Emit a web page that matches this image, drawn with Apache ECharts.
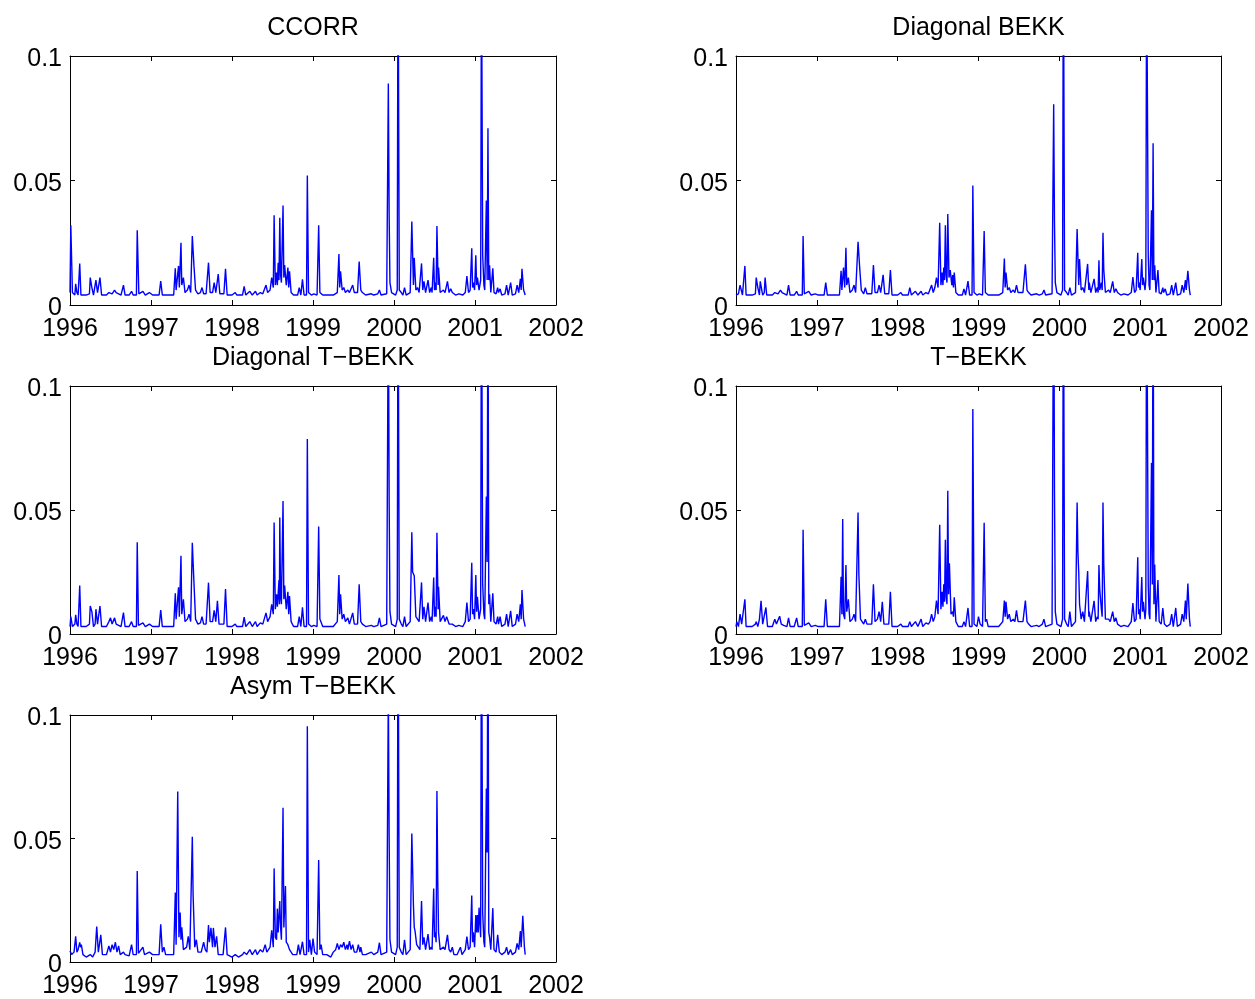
<!DOCTYPE html>
<html>
<head>
<meta charset="utf-8">
<script src="https://cdn.jsdelivr.net/npm/echarts@6/dist/echarts.min.js"></script>
<style>
  html, body { margin: 0; padding: 0; background: #fff; }
  #chart { width: 1255px; height: 999px; }
</style>
</head>
<body>
<div id="chart"></div>
<script>
// Conditional variance series, one panel per model: [decimal year, variance]
const panelTitles = ['CCORR', 'Diagonal BEKK', 'Diagonal T\u2212BEKK', 'T\u2212BEKK', 'Asym T\u2212BEKK'];
const xTicks = [1996, 1997, 1998, 1999, 2000, 2001, 2002];
const yTicks = [0, 0.05, 0.1];

const ccorr = [
  [1996.00,0.005],[1996.01,0.032],[1996.03,0.005],[1996.06,0.004],[1996.07,0.0085],[1996.085,0.005],[1996.10,0.004],[1996.12,0.0167],[1996.135,0.004],[1996.20,0.004],[1996.24,0.0045],[1996.25,0.011],[1996.27,0.007],[1996.29,0.004],[1996.31,0.0045],[1996.32,0.010],[1996.34,0.005],[1996.36,0.0045],[1996.37,0.011],[1996.39,0.004],
  [1996.45,0.004],[1996.48,0.005],[1996.50,0.0055],[1996.52,0.0045],[1996.55,0.006],[1996.57,0.005],[1996.59,0.0045],[1996.63,0.004],[1996.66,0.008],[1996.68,0.004],[1996.73,0.004],[1996.76,0.0055],[1996.78,0.004],[1996.82,0.004],[1996.83,0.030],[1996.85,0.0045],[1996.90,0.0055],[1996.93,0.004],[1996.98,0.005],
  [1997.02,0.004],[1997.10,0.004],[1997.12,0.0096],[1997.14,0.004],[1997.28,0.004],[1997.30,0.0147],[1997.31,0.006],[1997.34,0.0157],[1997.35,0.007],[1997.37,0.025],[1997.38,0.008],[1997.40,0.011],[1997.42,0.005],[1997.45,0.006],[1997.47,0.008],[1997.49,0.005],[1997.51,0.0277],[1997.53,0.016],[1997.55,0.006],[1997.58,0.0045],[1997.61,0.005],[1997.63,0.007],[1997.65,0.0045],[1997.68,0.0045],[1997.71,0.017],[1997.73,0.005],[1997.76,0.005],[1997.78,0.009],[1997.80,0.005],[1997.83,0.0124],[1997.85,0.0045],[1997.90,0.0045],[1997.92,0.0145],[1997.94,0.004],
  [1998.00,0.004],[1998.04,0.005],[1998.06,0.004],[1998.13,0.004],[1998.15,0.0075],[1998.17,0.004],[1998.22,0.0055],[1998.25,0.004],[1998.29,0.0055],[1998.31,0.004],[1998.35,0.005],[1998.38,0.0045],[1998.40,0.005],[1998.42,0.008],[1998.44,0.005],[1998.47,0.006],[1998.49,0.011],[1998.51,0.007],[1998.52,0.036],[1998.535,0.008],[1998.55,0.013],[1998.56,0.008],[1998.57,0.017],[1998.58,0.010],[1998.59,0.035],[1998.60,0.012],[1998.61,0.009],[1998.63,0.040],[1998.64,0.011],[1998.65,0.016],[1998.67,0.008],[1998.69,0.015],[1998.70,0.007],[1998.71,0.0135],[1998.73,0.005],[1998.76,0.004],[1998.81,0.004],[1998.83,0.007],[1998.85,0.004],[1998.87,0.0103],[1998.89,0.004],[1998.92,0.004],[1998.93,0.052],[1998.945,0.005],[1998.98,0.004],
  [1999.01,0.0045],[1999.05,0.004],[1999.07,0.032],[1999.085,0.005],[1999.10,0.0055],[1999.12,0.004],[1999.17,0.004],[1999.20,0.004],[1999.25,0.004],[1999.30,0.005],[1999.32,0.0205],[1999.33,0.007],[1999.34,0.0135],[1999.36,0.006],[1999.38,0.007],[1999.40,0.005],[1999.43,0.006],[1999.45,0.005],[1999.47,0.0055],[1999.49,0.008],[1999.51,0.005],[1999.55,0.005],[1999.57,0.0175],[1999.59,0.006],[1999.61,0.005],[1999.65,0.004],[1999.72,0.0045],[1999.75,0.004],[1999.80,0.0045],[1999.82,0.006],[1999.84,0.004],[1999.91,0.0045],[1999.93,0.089],[1999.94,0.036],[1999.95,0.009],[1999.97,0.005],
  [2000.02,0.004],[2000.04,0.006],[2000.05,0.150],[2000.065,0.006],[2000.09,0.005],[2000.11,0.004],[2000.13,0.007],[2000.15,0.004],[2000.20,0.005],[2000.22,0.0335],[2000.24,0.008],[2000.25,0.019],[2000.27,0.006],[2000.29,0.007],[2000.31,0.005],[2000.34,0.0167],[2000.355,0.006],[2000.37,0.0095],[2000.39,0.005],[2000.42,0.010],[2000.44,0.005],[2000.46,0.007],[2000.47,0.005],[2000.49,0.019],[2000.50,0.006],[2000.51,0.009],[2000.52,0.006],[2000.53,0.0317],[2000.545,0.008],[2000.55,0.015],[2000.57,0.005],[2000.61,0.006],[2000.63,0.005],[2000.66,0.0095],[2000.68,0.005],[2000.70,0.0065],[2000.72,0.005],[2000.76,0.004],[2000.80,0.0045],[2000.85,0.004],[2000.88,0.005],[2000.90,0.0116],[2000.92,0.005],[2000.94,0.006],[2000.96,0.0228],[2000.97,0.007],[2000.98,0.009],[2000.995,0.006],
  [2001.01,0.020],[2001.02,0.008],[2001.03,0.011],[2001.05,0.006],[2001.07,0.010],[2001.08,0.140],[2001.095,0.020],[2001.11,0.008],[2001.12,0.006],[2001.14,0.042],[2001.15,0.010],[2001.16,0.071],[2001.17,0.010],[2001.18,0.016],[2001.195,0.005],[2001.22,0.0147],[2001.235,0.005],[2001.26,0.0045],[2001.28,0.007],[2001.29,0.005],[2001.31,0.0065],[2001.33,0.004],[2001.37,0.0045],[2001.39,0.008],[2001.41,0.004],[2001.44,0.009],[2001.46,0.004],[2001.50,0.0045],[2001.52,0.008],[2001.54,0.005],[2001.56,0.0105],[2001.57,0.006],[2001.58,0.0145],[2001.60,0.006],[2001.62,0.004]
];

const diagBekk = [
  [1996.00,0.004],[1996.03,0.0045],[1996.05,0.008],[1996.06,0.0075],[1996.08,0.004],[1996.10,0.004],[1996.11,0.0157],[1996.125,0.004],[1996.20,0.004],[1996.24,0.0045],[1996.25,0.011],[1996.27,0.007],[1996.29,0.004],[1996.30,0.0095],[1996.315,0.0095],[1996.33,0.004],[1996.35,0.005],[1996.36,0.011],[1996.38,0.004],
  [1996.45,0.004],[1996.48,0.005],[1996.50,0.0055],[1996.52,0.0045],[1996.55,0.006],[1996.57,0.005],[1996.59,0.0045],[1996.63,0.004],[1996.65,0.008],[1996.67,0.004],[1996.72,0.004],[1996.75,0.0055],[1996.77,0.004],[1996.82,0.004],[1996.83,0.0277],[1996.845,0.0045],[1996.90,0.0055],[1996.93,0.004],[1996.98,0.0045],
  [1997.02,0.004],[1997.09,0.004],[1997.11,0.009],[1997.13,0.004],[1997.28,0.004],[1997.30,0.0137],[1997.31,0.006],[1997.33,0.015],[1997.345,0.007],[1997.36,0.023],[1997.37,0.008],[1997.39,0.011],[1997.41,0.005],[1997.44,0.006],[1997.46,0.008],[1997.48,0.005],[1997.51,0.0254],[1997.53,0.015],[1997.55,0.006],[1997.58,0.0045],[1997.60,0.007],[1997.62,0.0045],[1997.68,0.0045],[1997.70,0.016],[1997.72,0.005],[1997.75,0.005],[1997.77,0.008],[1997.79,0.005],[1997.82,0.0121],[1997.84,0.0045],[1997.89,0.0045],[1997.91,0.014],[1997.93,0.004],
  [1998.00,0.004],[1998.04,0.005],[1998.06,0.004],[1998.13,0.004],[1998.15,0.007],[1998.17,0.004],[1998.22,0.0055],[1998.25,0.004],[1998.29,0.0055],[1998.31,0.004],[1998.35,0.005],[1998.38,0.0045],[1998.40,0.005],[1998.42,0.008],[1998.44,0.005],[1998.46,0.007],[1998.48,0.011],[1998.50,0.007],[1998.52,0.033],[1998.535,0.008],[1998.55,0.013],[1998.56,0.008],[1998.57,0.015],[1998.58,0.010],[1998.59,0.032],[1998.60,0.012],[1998.61,0.009],[1998.62,0.0365],[1998.635,0.011],[1998.65,0.014],[1998.67,0.008],[1998.68,0.012],[1998.69,0.007],[1998.70,0.013],[1998.72,0.005],[1998.75,0.004],[1998.80,0.004],[1998.82,0.0065],[1998.84,0.004],[1998.87,0.0096],[1998.89,0.004],[1998.92,0.004],[1998.93,0.048],[1998.945,0.005],[1998.98,0.004],
  [1999.01,0.0045],[1999.05,0.004],[1999.07,0.0297],[1999.085,0.005],[1999.10,0.0055],[1999.12,0.004],[1999.20,0.004],[1999.25,0.004],[1999.30,0.005],[1999.32,0.0187],[1999.33,0.007],[1999.34,0.013],[1999.36,0.006],[1999.38,0.007],[1999.40,0.005],[1999.43,0.006],[1999.45,0.005],[1999.47,0.008],[1999.49,0.005],[1999.55,0.005],[1999.58,0.0163],[1999.60,0.006],[1999.62,0.005],[1999.65,0.004],[1999.72,0.0045],[1999.75,0.004],[1999.79,0.0045],[1999.81,0.006],[1999.83,0.004],[1999.91,0.0045],[1999.93,0.0806],[1999.94,0.0332],[1999.95,0.009],[1999.97,0.005],
  [2000.02,0.004],[2000.04,0.006],[2000.05,0.150],[2000.065,0.006],[2000.09,0.005],[2000.11,0.004],[2000.13,0.007],[2000.15,0.004],[2000.20,0.005],[2000.22,0.0305],[2000.24,0.008],[2000.25,0.0185],[2000.27,0.006],[2000.29,0.007],[2000.31,0.005],[2000.35,0.0165],[2000.365,0.006],[2000.37,0.009],[2000.39,0.005],[2000.43,0.0105],[2000.45,0.005],[2000.47,0.007],[2000.48,0.005],[2000.49,0.018],[2000.50,0.006],[2000.52,0.009],[2000.53,0.006],[2000.54,0.029],[2000.55,0.014],[2000.57,0.005],[2000.61,0.006],[2000.63,0.005],[2000.66,0.0095],[2000.68,0.005],[2000.70,0.0065],[2000.72,0.005],[2000.76,0.004],[2000.80,0.0045],[2000.85,0.004],[2000.89,0.005],[2000.91,0.0112],[2000.93,0.005],[2000.95,0.006],[2000.97,0.021],[2000.98,0.007],[2000.99,0.009],
  [2001.00,0.006],[2001.02,0.0185],[2001.03,0.008],[2001.04,0.011],[2001.06,0.006],[2001.07,0.010],[2001.08,0.140],[2001.09,0.0817],[2001.10,0.020],[2001.11,0.008],[2001.12,0.006],[2001.14,0.038],[2001.15,0.010],[2001.16,0.065],[2001.17,0.010],[2001.18,0.016],[2001.195,0.005],[2001.22,0.014],[2001.235,0.005],[2001.26,0.0045],[2001.28,0.007],[2001.29,0.005],[2001.31,0.0065],[2001.33,0.004],[2001.37,0.0045],[2001.39,0.008],[2001.41,0.004],[2001.44,0.009],[2001.46,0.004],[2001.50,0.0045],[2001.52,0.008],[2001.54,0.005],[2001.56,0.010],[2001.57,0.006],[2001.59,0.0137],[2001.61,0.006],[2001.62,0.004]
];

const diagTBekk = [
  [1996.00,0.003],[1996.01,0.007],[1996.03,0.003],[1996.06,0.004],[1996.07,0.0077],[1996.085,0.004],[1996.10,0.003],[1996.12,0.0195],[1996.135,0.003],[1996.20,0.003],[1996.24,0.004],[1996.25,0.0113],[1996.27,0.009],[1996.29,0.003],[1996.31,0.004],[1996.32,0.010],[1996.34,0.004],[1996.36,0.004],[1996.37,0.0113],[1996.39,0.003],
  [1996.45,0.003],[1996.48,0.005],[1996.50,0.0065],[1996.52,0.004],[1996.55,0.0065],[1996.57,0.004],[1996.59,0.0035],[1996.63,0.003],[1996.66,0.0086],[1996.68,0.003],[1996.73,0.003],[1996.76,0.005],[1996.78,0.003],[1996.82,0.003],[1996.83,0.037],[1996.845,0.0035],[1996.90,0.0045],[1996.93,0.003],[1996.98,0.004],
  [1997.02,0.003],[1997.10,0.003],[1997.12,0.0097],[1997.14,0.003],[1997.28,0.003],[1997.30,0.0164],[1997.31,0.006],[1997.34,0.0188],[1997.35,0.007],[1997.37,0.0315],[1997.38,0.008],[1997.40,0.014],[1997.42,0.005],[1997.45,0.006],[1997.47,0.008],[1997.49,0.005],[1997.51,0.0368],[1997.53,0.021],[1997.55,0.006],[1997.58,0.004],[1997.61,0.0045],[1997.63,0.007],[1997.65,0.004],[1997.68,0.004],[1997.71,0.0207],[1997.73,0.005],[1997.76,0.005],[1997.78,0.0095],[1997.80,0.005],[1997.82,0.0134],[1997.84,0.004],[1997.90,0.004],[1997.92,0.0181],[1997.94,0.003],
  [1998.00,0.003],[1998.04,0.004],[1998.06,0.003],[1998.13,0.003],[1998.15,0.0068],[1998.17,0.003],[1998.22,0.005],[1998.25,0.003],[1998.29,0.005],[1998.31,0.003],[1998.35,0.0045],[1998.38,0.004],[1998.40,0.0045],[1998.42,0.0085],[1998.44,0.005],[1998.47,0.007],[1998.49,0.012],[1998.51,0.008],[1998.52,0.045],[1998.535,0.010],[1998.55,0.016],[1998.56,0.011],[1998.58,0.0218],[1998.585,0.012],[1998.59,0.047],[1998.60,0.015],[1998.61,0.012],[1998.63,0.0536],[1998.64,0.014],[1998.65,0.0195],[1998.67,0.010],[1998.69,0.017],[1998.70,0.008],[1998.71,0.0153],[1998.73,0.005],[1998.76,0.003],[1998.81,0.003],[1998.83,0.007],[1998.85,0.003],[1998.87,0.0108],[1998.89,0.003],[1998.92,0.003],[1998.93,0.0786],[1998.945,0.004],[1998.98,0.003],
  [1999.01,0.0035],[1999.05,0.003],[1999.07,0.0433],[1999.085,0.006],[1999.10,0.0065],[1999.12,0.003],[1999.17,0.003],[1999.20,0.003],[1999.25,0.003],[1999.30,0.005],[1999.32,0.0238],[1999.33,0.008],[1999.34,0.016],[1999.36,0.006],[1999.38,0.008],[1999.40,0.005],[1999.43,0.0065],[1999.45,0.004],[1999.47,0.0045],[1999.49,0.0085],[1999.51,0.004],[1999.55,0.004],[1999.57,0.020],[1999.59,0.005],[1999.61,0.004],[1999.65,0.003],[1999.72,0.0035],[1999.75,0.003],[1999.80,0.0035],[1999.82,0.0065],[1999.84,0.003],[1999.91,0.004],[1999.93,0.140],[1999.94,0.054],[1999.95,0.009],[1999.97,0.004],
  [2000.02,0.003],[2000.04,0.006],[2000.05,0.160],[2000.065,0.006],[2000.09,0.004],[2000.11,0.003],[2000.13,0.007],[2000.15,0.003],[2000.20,0.005],[2000.22,0.041],[2000.23,0.025],[2000.24,0.0247],[2000.25,0.0235],[2000.27,0.007],[2000.29,0.007],[2000.31,0.005],[2000.34,0.0208],[2000.355,0.006],[2000.37,0.011],[2000.39,0.005],[2000.42,0.0127],[2000.44,0.005],[2000.46,0.007],[2000.47,0.005],[2000.49,0.0228],[2000.50,0.007],[2000.51,0.011],[2000.52,0.007],[2000.53,0.0408],[2000.545,0.010],[2000.55,0.019],[2000.57,0.005],[2000.61,0.0075],[2000.63,0.005],[2000.65,0.007],[2000.66,0.0065],[2000.68,0.004],[2000.72,0.004],[2000.76,0.003],[2000.80,0.0035],[2000.85,0.003],[2000.88,0.005],[2000.90,0.0127],[2000.92,0.005],[2000.94,0.006],[2000.96,0.0287],[2000.97,0.008],[2000.98,0.010],[2000.995,0.006],
  [2001.01,0.0238],[2001.02,0.009],[2001.03,0.015],[2001.05,0.006],[2001.07,0.010],[2001.08,0.160],[2001.095,0.020],[2001.11,0.008],[2001.12,0.006],[2001.14,0.0554],[2001.15,0.029],[2001.16,0.150],[2001.17,0.012],[2001.18,0.016],[2001.195,0.005],[2001.22,0.0164],[2001.235,0.005],[2001.26,0.004],[2001.28,0.007],[2001.29,0.004],[2001.31,0.007],[2001.33,0.003],[2001.37,0.004],[2001.39,0.008],[2001.41,0.003],[2001.44,0.0093],[2001.46,0.003],[2001.50,0.004],[2001.52,0.008],[2001.54,0.005],[2001.56,0.012],[2001.57,0.006],[2001.58,0.0177],[2001.60,0.006],[2001.62,0.003]
];

const tBekk = [
  [1996.00,0.003],[1996.01,0.005],[1996.03,0.003],[1996.05,0.008],[1996.07,0.004],[1996.09,0.004],[1996.11,0.014],[1996.125,0.003],[1996.20,0.003],[1996.24,0.004],[1996.25,0.005],[1996.27,0.003],[1996.29,0.006],[1996.31,0.0134],[1996.33,0.004],[1996.35,0.004],[1996.37,0.0107],[1996.39,0.003],
  [1996.45,0.003],[1996.48,0.006],[1996.50,0.004],[1996.54,0.0072],[1996.56,0.004],[1996.59,0.0035],[1996.63,0.003],[1996.65,0.0065],[1996.67,0.003],[1996.72,0.003],[1996.75,0.0065],[1996.77,0.003],[1996.82,0.003],[1996.83,0.042],[1996.845,0.0035],[1996.90,0.0045],[1996.93,0.003],[1996.98,0.0035],
  [1997.02,0.003],[1997.09,0.003],[1997.11,0.014],[1997.13,0.003],[1997.28,0.003],[1997.30,0.0231],[1997.31,0.008],[1997.32,0.0464],[1997.33,0.008],[1997.345,0.006],[1997.36,0.0278],[1997.37,0.009],[1997.39,0.014],[1997.41,0.005],[1997.44,0.006],[1997.46,0.008],[1997.48,0.005],[1997.51,0.049],[1997.52,0.024],[1997.54,0.006],[1997.58,0.004],[1997.60,0.006],[1997.62,0.004],[1997.68,0.004],[1997.70,0.020],[1997.72,0.005],[1997.75,0.006],[1997.77,0.009],[1997.79,0.005],[1997.81,0.013],[1997.83,0.004],[1997.89,0.004],[1997.91,0.017],[1997.93,0.003],
  [1998.00,0.003],[1998.04,0.004],[1998.06,0.003],[1998.13,0.003],[1998.15,0.005],[1998.17,0.003],[1998.22,0.005],[1998.25,0.003],[1998.29,0.006],[1998.31,0.003],[1998.35,0.0045],[1998.38,0.004],[1998.40,0.005],[1998.42,0.008],[1998.44,0.005],[1998.46,0.007],[1998.48,0.0135],[1998.50,0.008],[1998.52,0.044],[1998.535,0.010],[1998.55,0.017],[1998.56,0.011],[1998.57,0.020],[1998.58,0.013],[1998.59,0.038],[1998.60,0.015],[1998.61,0.012],[1998.62,0.0578],[1998.63,0.016],[1998.64,0.0285],[1998.66,0.008],[1998.68,0.009],[1998.69,0.007],[1998.70,0.0148],[1998.72,0.005],[1998.75,0.003],[1998.80,0.003],[1998.82,0.005],[1998.84,0.003],[1998.87,0.0105],[1998.89,0.003],[1998.92,0.003],[1998.93,0.0907],[1998.945,0.004],[1998.98,0.003],
  [1999.00,0.007],[1999.02,0.004],[1999.05,0.003],[1999.07,0.0449],[1999.085,0.005],[1999.10,0.006],[1999.12,0.003],[1999.20,0.003],[1999.25,0.003],[1999.30,0.005],[1999.32,0.0135],[1999.33,0.007],[1999.34,0.013],[1999.36,0.006],[1999.38,0.008],[1999.40,0.005],[1999.43,0.006],[1999.45,0.005],[1999.47,0.0095],[1999.49,0.005],[1999.55,0.005],[1999.58,0.0135],[1999.60,0.005],[1999.62,0.004],[1999.65,0.003],[1999.72,0.0035],[1999.75,0.003],[1999.79,0.004],[1999.81,0.006],[1999.83,0.003],[1999.91,0.004],[1999.93,0.160],[1999.94,0.0573],[1999.95,0.009],[1999.97,0.004],
  [2000.02,0.003],[2000.04,0.006],[2000.05,0.160],[2000.065,0.006],[2000.09,0.004],[2000.11,0.003],[2000.13,0.009],[2000.15,0.003],[2000.20,0.005],[2000.22,0.053],[2000.23,0.033],[2000.24,0.025],[2000.25,0.012],[2000.27,0.006],[2000.29,0.009],[2000.31,0.005],[2000.35,0.0254],[2000.365,0.007],[2000.37,0.009],[2000.39,0.005],[2000.43,0.0134],[2000.45,0.005],[2000.47,0.007],[2000.48,0.006],[2000.49,0.0278],[2000.50,0.018],[2000.52,0.010],[2000.53,0.007],[2000.54,0.053],[2000.55,0.028],[2000.57,0.006],[2000.61,0.006],[2000.63,0.005],[2000.66,0.009],[2000.68,0.005],[2000.70,0.0065],[2000.72,0.004],[2000.76,0.003],[2000.80,0.0035],[2000.85,0.003],[2000.89,0.005],[2000.91,0.0125],[2000.93,0.005],[2000.95,0.006],[2000.97,0.0309],[2000.98,0.008],[2000.99,0.010],
  [2001.00,0.006],[2001.02,0.023],[2001.03,0.009],[2001.04,0.013],[2001.06,0.006],[2001.07,0.010],[2001.08,0.160],[2001.10,0.020],[2001.11,0.008],[2001.12,0.006],[2001.14,0.069],[2001.15,0.020],[2001.16,0.160],[2001.17,0.012],[2001.18,0.028],[2001.195,0.005],[2001.22,0.0218],[2001.235,0.005],[2001.26,0.004],[2001.28,0.0105],[2001.30,0.004],[2001.33,0.003],[2001.37,0.004],[2001.39,0.008],[2001.41,0.003],[2001.44,0.0105],[2001.46,0.003],[2001.50,0.004],[2001.52,0.008],[2001.54,0.005],[2001.56,0.0135],[2001.57,0.006],[2001.59,0.0204],[2001.61,0.006],[2001.62,0.003]
];

const asymTBekk = [
  [1996.00,0.0045],[1996.02,0.003],[1996.05,0.004],[1996.07,0.0104],[1996.085,0.004],[1996.10,0.005],[1996.12,0.0079],[1996.13,0.006],[1996.14,0.007],[1996.16,0.003],[1996.20,0.002],[1996.25,0.003],[1996.28,0.002],[1996.31,0.004],[1996.33,0.0144],[1996.35,0.004],[1996.37,0.004],[1996.38,0.011],[1996.40,0.003],
  [1996.45,0.003],[1996.48,0.0065],[1996.50,0.004],[1996.52,0.007],[1996.54,0.005],[1996.56,0.008],[1996.58,0.004],[1996.60,0.0065],[1996.62,0.003],[1996.66,0.004],[1996.68,0.003],[1996.73,0.0025],[1996.76,0.007],[1996.78,0.003],[1996.82,0.003],[1996.83,0.0368],[1996.845,0.0035],[1996.90,0.006],[1996.92,0.003],[1996.98,0.004],
  [1997.02,0.003],[1997.10,0.003],[1997.12,0.0153],[1997.14,0.004],[1997.16,0.006],[1997.18,0.003],[1997.28,0.003],[1997.30,0.0281],[1997.31,0.007],[1997.33,0.069],[1997.345,0.010],[1997.36,0.020],[1997.37,0.009],[1997.38,0.014],[1997.40,0.005],[1997.44,0.006],[1997.46,0.0104],[1997.48,0.005],[1997.51,0.0507],[1997.52,0.027],[1997.54,0.006],[1997.56,0.009],[1997.58,0.004],[1997.62,0.004],[1997.65,0.008],[1997.67,0.005],[1997.69,0.004],[1997.71,0.015],[1997.72,0.008],[1997.74,0.0138],[1997.76,0.006],[1997.77,0.0138],[1997.79,0.006],[1997.81,0.0104],[1997.83,0.003],[1997.89,0.003],[1997.92,0.014],[1997.94,0.003],
  [1998.00,0.002],[1998.04,0.003],[1998.08,0.002],[1998.13,0.003],[1998.15,0.004],[1998.18,0.003],[1998.22,0.005],[1998.25,0.003],[1998.29,0.005],[1998.31,0.003],[1998.35,0.005],[1998.38,0.004],[1998.41,0.007],[1998.43,0.004],[1998.47,0.006],[1998.49,0.0128],[1998.51,0.006],[1998.52,0.0379],[1998.535,0.010],[1998.55,0.009],[1998.56,0.0216],[1998.57,0.012],[1998.59,0.0247],[1998.60,0.014],[1998.61,0.009],[1998.63,0.0624],[1998.64,0.014],[1998.66,0.0308],[1998.67,0.008],[1998.69,0.007],[1998.71,0.005],[1998.75,0.003],[1998.80,0.003],[1998.82,0.007],[1998.84,0.003],[1998.87,0.0082],[1998.89,0.003],[1998.92,0.003],[1998.93,0.0954],[1998.945,0.004],[1998.96,0.009],[1998.98,0.003],
  [1999.00,0.0095],[1999.02,0.004],[1999.05,0.003],[1999.07,0.0413],[1999.085,0.005],[1999.10,0.007],[1999.12,0.003],[1999.17,0.003],[1999.22,0.002],[1999.25,0.004],[1999.28,0.005],[1999.30,0.0075],[1999.32,0.005],[1999.34,0.007],[1999.36,0.006],[1999.38,0.008],[1999.40,0.005],[1999.42,0.007],[1999.43,0.005],[1999.45,0.0085],[1999.47,0.005],[1999.49,0.007],[1999.51,0.004],[1999.54,0.004],[1999.56,0.007],[1999.58,0.004],[1999.59,0.006],[1999.61,0.003],[1999.65,0.003],[1999.72,0.004],[1999.75,0.003],[1999.80,0.004],[1999.82,0.0078],[1999.84,0.003],[1999.91,0.004],[1999.93,0.110],[1999.94,0.051],[1999.95,0.009],[1999.97,0.004],
  [2000.02,0.003],[2000.04,0.006],[2000.05,0.160],[2000.065,0.006],[2000.09,0.004],[2000.11,0.003],[2000.13,0.009],[2000.15,0.003],[2000.20,0.005],[2000.22,0.052],[2000.23,0.038],[2000.24,0.023],[2000.25,0.014],[2000.26,0.0125],[2000.28,0.007],[2000.30,0.006],[2000.32,0.005],[2000.34,0.0247],[2000.355,0.007],[2000.37,0.010],[2000.39,0.005],[2000.42,0.0113],[2000.44,0.005],[2000.46,0.006],[2000.47,0.005],[2000.49,0.0298],[2000.50,0.010],[2000.51,0.012],[2000.52,0.008],[2000.53,0.0692],[2000.54,0.0339],[2000.55,0.012],[2000.57,0.005],[2000.61,0.006],[2000.63,0.005],[2000.66,0.011],[2000.68,0.005],[2000.70,0.004],[2000.72,0.006],[2000.74,0.003],[2000.78,0.003],[2000.82,0.006],[2000.84,0.003],[2000.88,0.005],[2000.90,0.0103],[2000.92,0.005],[2000.94,0.006],[2000.96,0.0269],[2000.97,0.008],[2000.98,0.012],[2000.995,0.006],
  [2001.01,0.019],[2001.02,0.012],[2001.03,0.019],[2001.04,0.012],[2001.05,0.022],[2001.07,0.010],[2001.08,0.160],[2001.095,0.020],[2001.11,0.008],[2001.12,0.006],[2001.14,0.0702],[2001.15,0.0443],[2001.16,0.160],[2001.17,0.012],[2001.18,0.010],[2001.195,0.005],[2001.22,0.0218],[2001.235,0.005],[2001.26,0.004],[2001.28,0.011],[2001.30,0.004],[2001.33,0.003],[2001.37,0.004],[2001.39,0.006],[2001.41,0.003],[2001.44,0.005],[2001.46,0.003],[2001.50,0.004],[2001.52,0.0075],[2001.54,0.005],[2001.56,0.0125],[2001.57,0.006],[2001.59,0.0187],[2001.61,0.006],[2001.62,0.003]
];

const seriesData = [ccorr, diagBekk, diagTBekk, tBekk, asymTBekk];

// Panel boxes in pixels: 3 rows x 2 columns, last cell empty
const panelBoxes = [
  { left: 70,  top: 56,  width: 486, height: 249 },
  { left: 736, top: 56,  width: 485, height: 249 },
  { left: 70,  top: 386, width: 486, height: 248 },
  { left: 736, top: 386, width: 485, height: 248 },
  { left: 70,  top: 715, width: 486, height: 248 }
];

const FONT = 'Liberation Sans, Arial, Helvetica, sans-serif';
const BLACK = '#000';

// y tick text, wrapped in a rich style that sits a few pixels below the tick
function fmtY(v) { return '{t|' + String(parseFloat(v.toFixed(3))) + '}'; }

const grid = [], xAxis = [], yAxis = [], series = [], title = [];

panelBoxes.forEach((b, i) => {
  grid.push({ left: b.left, top: b.top, width: b.width, height: b.height, containLabel: false });

  title.push({
    text: panelTitles[i],
    left: b.left + b.width / 2,
    top: b.top - 40,
    textAlign: 'center',
    padding: 0,
    textStyle: { fontFamily: FONT, fontSize: 25, fontWeight: 'normal', color: BLACK }
  });

  const tick = { show: true, inside: true, length: 5, lineStyle: { color: BLACK, width: 1 } };
  const line = { show: true, onZero: false, lineStyle: { color: BLACK, width: 1 } };

  // bottom axis carries the year labels, top axis closes the box
  xAxis.push({
    gridIndex: i, type: 'value', position: 'bottom',
    min: xTicks[0], max: xTicks[xTicks.length - 1], interval: 1,
    axisLine: line, axisTick: tick, splitLine: { show: false },
    axisLabel: { show: true, color: BLACK, fontFamily: FONT, fontSize: 25, margin: 12,
                 formatter: v => String(v) }
  });
  xAxis.push({
    gridIndex: i, type: 'value', position: 'top',
    min: xTicks[0], max: xTicks[xTicks.length - 1], interval: 1,
    axisLine: line, axisTick: tick, splitLine: { show: false },
    axisLabel: { show: false }
  });
  yAxis.push({
    gridIndex: i, type: 'value', position: 'left',
    min: yTicks[0], max: yTicks[yTicks.length - 1], interval: 0.05,
    axisLine: line, axisTick: tick, splitLine: { show: false },
    axisLabel: { show: true, color: BLACK, fontFamily: FONT, fontSize: 25, margin: 8,
                 formatter: fmtY,
                 rich: { t: { fontFamily: FONT, fontSize: 25, color: BLACK, padding: [7, 0, 0, 0] } } }
  });
  yAxis.push({
    gridIndex: i, type: 'value', position: 'right',
    min: yTicks[0], max: yTicks[yTicks.length - 1], interval: 0.05,
    axisLine: line, axisTick: tick, splitLine: { show: false },
    axisLabel: { show: false }
  });

  series.push({
    type: 'line',
    xAxisIndex: i * 2,
    yAxisIndex: i * 2,
    data: seriesData[i],
    showSymbol: false,
    symbol: 'none',
    clip: true,
    lineStyle: { color: '#0000ff', width: 1.4 },
    silent: true
  });
});

const chart = echarts.init(document.getElementById('chart'), null, { renderer: 'canvas' });
chart.setOption({
  animation: false,
  backgroundColor: '#fff',
  title, grid, xAxis, yAxis, series
});
</script>
</body>
</html>
